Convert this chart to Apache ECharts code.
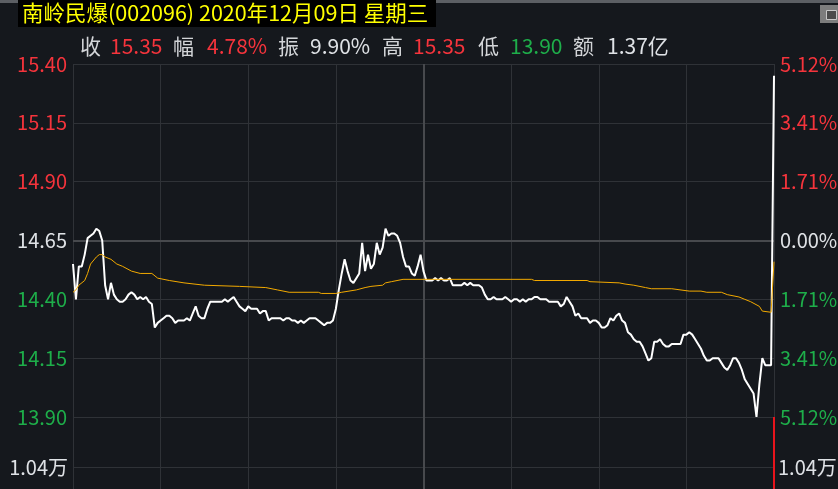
<!DOCTYPE html>
<html>
<head>
<meta charset="utf-8">
<style>
  html, body { margin: 0; padding: 0; background: #15181d; }
  #chart { width: 838px; height: 489px; }
</style>
<script src="https://cdn.jsdelivr.net/npm/echarts@6/dist/echarts.min.js"></script>
</head>
<body>
<div id="chart"></div>
<script>
// ---------------- data ----------------
const stockTitle = '南岭民爆(002096) 2020年12月09日 星期三';
const prevClose = 14.65;
const infoLabels = ['收', '幅', '振', '高', '低', '额'];
const infoValues = ['15.35', '4.78%', '9.90%', '15.35', '13.90', '1.37亿'];
const infoValueKinds = ['up', 'up', 'flat', 'up', 'down', 'flat'];
const volumeLabel = '1.04万';
const volumeMid = 10400;

// minute-by-minute price (index 0 = 9:30, 120 = 11:30/13:00, 240 = 15:00)
const priceByMinute = [
  14.55, 14.40, 14.54, 14.54, 14.59, 14.66, 14.67, 14.68, 14.70, 14.69,
  14.65, 14.46, 14.40, 14.47, 14.42, 14.40, 14.39, 14.39, 14.40, 14.42,
  14.43, 14.42, 14.40, 14.41, 14.40, 14.41, 14.39, 14.38, 14.28, 14.30,
  14.31, 14.32, 14.33, 14.33, 14.32, 14.30, 14.31, 14.31, 14.31, 14.32,
  14.31, 14.34, 14.37, 14.33, 14.32, 14.32, 14.36, 14.39, 14.39, 14.39,
  14.39, 14.39, 14.40, 14.39, 14.40, 14.41, 14.39, 14.37, 14.36, 14.35,
  14.37, 14.36, 14.36, 14.36, 14.34, 14.35, 14.35, 14.31, 14.32, 14.32,
  14.32, 14.32, 14.31, 14.32, 14.32, 14.31, 14.31, 14.30, 14.31, 14.30,
  14.31, 14.32, 14.32, 14.32, 14.31, 14.30, 14.29, 14.30, 14.30, 14.31,
  14.36, 14.44, 14.51, 14.57, 14.52, 14.48, 14.47, 14.49, 14.51, 14.64,
  14.52, 14.59, 14.53, 14.55, 14.64, 14.59, 14.62, 14.70, 14.67, 14.68,
  14.68, 14.67, 14.64, 14.58, 14.54, 14.54, 14.51, 14.50, 14.54, 14.59,
  14.52, 14.48, 14.48, 14.48, 14.49, 14.48, 14.49, 14.48, 14.48, 14.49,
  14.46, 14.46, 14.46, 14.46, 14.47, 14.46, 14.47, 14.46, 14.46, 14.46,
  14.45, 14.42, 14.40, 14.40, 14.41, 14.40, 14.40, 14.40, 14.41, 14.40,
  14.39, 14.40, 14.40, 14.39, 14.40, 14.39, 14.40, 14.40, 14.41, 14.41,
  14.40, 14.40, 14.40, 14.39, 14.39, 14.39, 14.39, 14.37, 14.38, 14.41,
  14.39, 14.37, 14.33, 14.34, 14.32, 14.32, 14.32, 14.30, 14.31, 14.31,
  14.30, 14.28, 14.28, 14.29, 14.32, 14.31, 14.33, 14.34, 14.31, 14.30,
  14.26, 14.25, 14.23, 14.22, 14.22, 14.20, 14.17, 14.14, 14.15, 14.22,
  14.22, 14.23, 14.21, 14.20, 14.20, 14.21, 14.21, 14.21, 14.21, 14.25,
  14.25, 14.26, 14.25, 14.23, 14.21, 14.19, 14.16, 14.14, 14.14, 14.15,
  14.15, 14.15, 14.13, 14.11, 14.10, 14.12, 14.15, 14.15, 14.13, 14.10,
  14.06, 14.04, 14.02, 14.00, 13.90, 14.04, 14.15, 14.12, 14.12, 14.12,
  15.35
];

// average price line, read as [minute, price]
const avgPoints = [
  [0, 14.43], [1, 14.44], [2, 14.46], [4, 14.48], [5, 14.51], [6, 14.55],
  [8, 14.58], [9, 14.59], [10, 14.59], [11, 14.58], [13, 14.57], [15, 14.55],
  [17, 14.54], [20, 14.52], [23, 14.51], [27, 14.51], [29, 14.49], [33, 14.48],
  [38, 14.47], [45, 14.46], [57, 14.455], [66, 14.45], [70, 14.44], [74, 14.43],
  [84, 14.43], [85, 14.425], [90, 14.425], [92, 14.43], [97, 14.44], [100, 14.45],
  [102, 14.455], [106, 14.46], [107, 14.47], [109, 14.475], [113, 14.485],
  [157, 14.485], [158, 14.48], [176, 14.48], [177, 14.475], [187, 14.47],
  [189, 14.465], [192, 14.46], [196, 14.45], [198, 14.445], [205, 14.445],
  [211, 14.435], [215, 14.435], [217, 14.43], [222, 14.43], [224, 14.42],
  [228, 14.41], [230, 14.40], [232, 14.39], [235, 14.37], [236, 14.35],
  [239, 14.345], [240, 14.56]
];

// volume: only the closing bar is visible in the frame
const volumePoints = [[240, 20800]];

// ---------------- style ----------------
const C_BG = '#15181d';
const C_GRID = '#2f3237';
const C_GRID_MAIN = '#47494d';
const C_RED = '#f5343c';
const C_GREEN = '#1eae4a';
const C_WHITE = '#dfe2e6';
const C_LABEL = '#d3d5d8';
const C_AVG = '#f2a900';
const FONT = '"Noto Sans CJK SC", "Noto Sans", sans-serif';

function kindColor(k) { return k === 'up' ? C_RED : (k === 'down' ? C_GREEN : C_WHITE); }
function offsetColor(v) {
  v = parseFloat(v);
  if (v > 1e-6) return C_RED;
  if (v < -1e-6) return C_GREEN;
  return C_WHITE;
}

const chart = echarts.init(document.getElementById('chart'), null, { renderer: 'canvas' });

const xCommon = {
  type: 'value', min: 0, max: 240, interval: 30,
  axisLine: { show: false }, axisTick: { show: false }, axisLabel: { show: false },
  splitLine: { show: true, lineStyle: { color: C_GRID, width: 1 } }
};

const infoX = [80, 110, 173, 207, 278, 310, 382, 413, 478, 510, 573, 607];
const infoGraphics = [];
for (let i = 0; i < infoLabels.length; i++) {
  infoGraphics.push({
    type: 'text', left: infoX[2 * i], top: 36,
    style: { text: infoLabels[i], fill: C_LABEL, font: '21px ' + FONT }
  });
  infoGraphics.push({
    type: 'text', left: infoX[2 * i + 1], top: 36,
    style: { text: infoValues[i], fill: kindColor(infoValueKinds[i]), font: '21px ' + FONT }
  });
}

const option = {
  backgroundColor: C_BG,
  animation: false,
  grid: [
    { left: 73, right: 64, top: 64, height: 353, outerBoundsMode: 'none', containLabel: false },
    { left: 73, right: 64, top: 417, height: 100, outerBoundsMode: 'none', containLabel: false }
  ],
  xAxis: [
    Object.assign({ gridIndex: 0 }, xCommon),
    Object.assign({ gridIndex: 1 }, xCommon)
  ],
  yAxis: [
    {
      type: 'value', gridIndex: 0, position: 'left',
      min: -0.75, max: 0.75, interval: 0.25,
      axisLine: { show: false }, axisTick: { show: false },
      axisLabel: {
        margin: 6, fontSize: 20, fontFamily: FONT,
        formatter: v => (prevClose + v).toFixed(2),
        color: v => offsetColor(v)
      },
      splitLine: { show: true, lineStyle: { color: C_GRID, width: 1 } }
    },
    {
      type: 'value', gridIndex: 0, position: 'right',
      min: -0.75, max: 0.75, interval: 0.25,
      axisLine: { show: false }, axisTick: { show: false },
      axisLabel: {
        margin: 6, fontSize: 20, fontFamily: FONT,
        formatter: v => Math.abs(v / prevClose * 100).toFixed(2) + '%',
        color: v => offsetColor(v)
      },
      splitLine: { show: false }
    },
    {
      type: 'value', gridIndex: 1, position: 'left',
      min: 0, max: 2 * volumeMid, interval: volumeMid,
      axisLine: { show: false }, axisTick: { show: false },
      axisLabel: {
        margin: 5, fontSize: 20, fontFamily: FONT, color: C_WHITE,
        formatter: v => (v === volumeMid ? volumeLabel : '')
      },
      splitLine: { show: true, lineStyle: { color: C_GRID, width: 1 } }
    },
    {
      type: 'value', gridIndex: 1, position: 'right',
      min: 0, max: 2 * volumeMid, interval: volumeMid,
      axisLine: { show: false }, axisTick: { show: false },
      axisLabel: {
        margin: 4, fontSize: 20, fontFamily: FONT, color: C_WHITE,
        formatter: v => (v === volumeMid ? volumeLabel : '')
      },
      splitLine: { show: false }
    }
  ],
  series: [
    {
      name: 'price', type: 'line', xAxisIndex: 0, yAxisIndex: 0,
      data: priceByMinute.map((p, i) => [i, +(p - prevClose).toFixed(4)]),
      showSymbol: false, symbol: 'none', silent: true, z: 3,
      lineStyle: { color: '#ffffff', width: 2 },
      markLine: {
        silent: true, symbol: ['none', 'none'], label: { show: false },
        lineStyle: { color: C_GRID_MAIN, width: 2, type: 'solid' },
        data: [{ yAxis: 0 }, { xAxis: 120 }],
        z: 1
      }
    },
    {
      name: 'avg', type: 'line', xAxisIndex: 0, yAxisIndex: 0,
      data: avgPoints.map(d => [d[0], +(d[1] - prevClose).toFixed(4)]),
      showSymbol: false, symbol: 'none', silent: true, z: 4,
      lineStyle: { color: C_AVG, width: 1 }
    },
    {
      name: 'volume', type: 'bar', xAxisIndex: 1, yAxisIndex: 2,
      data: volumePoints, barWidth: 2, clip: false, silent: true,
      itemStyle: { color: '#e8141c' },
      markLine: {
        silent: true, symbol: ['none', 'none'], label: { show: false },
        lineStyle: { color: C_GRID_MAIN, width: 2, type: 'solid' },
        data: [{ xAxis: 120 }]
      }
    }
  ],
  graphic: [
    { type: 'rect', left: 0, top: 0, shape: { width: 838, height: 3 }, style: { fill: '#5c5f64' }, z: 10 },
    { type: 'rect', left: 18, top: 0, shape: { width: 418, height: 27 }, style: { fill: '#000000' }, z: 11 },
    { type: 'text', left: 22, top: 2, z: 12,
      style: { text: stockTitle, fill: '#ffff00', font: '21.5px ' + FONT } },
    { type: 'rect', left: 820, top: 5, shape: { width: 18, height: 18 }, style: { fill: '#7d7d7d' }, z: 11 },
    { type: 'rect', left: 826, top: 10, shape: { width: 10, height: 9 }, style: { fill: '#4b4b4b', stroke: '#c8c8c8', lineWidth: 1 }, z: 12 }
  ].concat(infoGraphics.map(g => Object.assign({ z: 12 }, g)))
};

chart.setOption(option);
</script>
</body>
</html>
